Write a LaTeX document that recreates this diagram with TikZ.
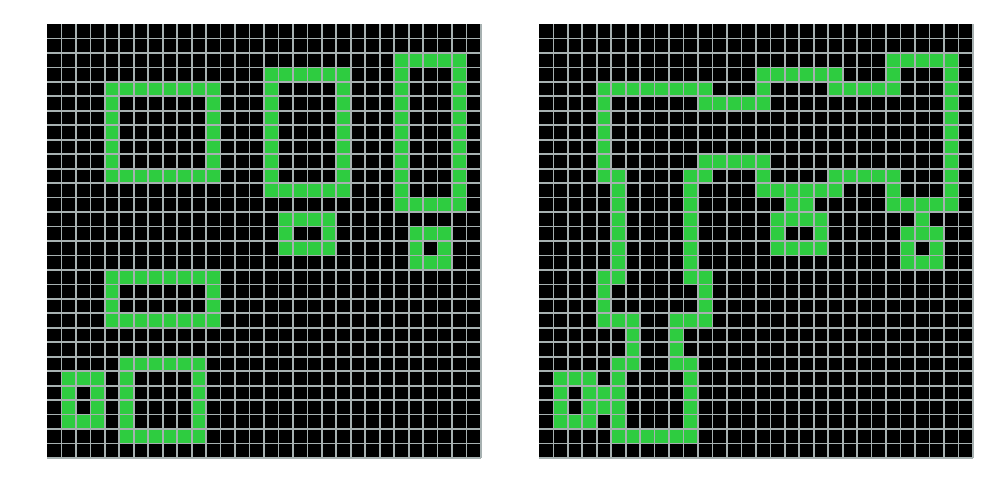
\documentclass[tikz,border=0pt]{standalone}
\usepackage{tikz}
\definecolor{cgreen}{HTML}{2ECC40}
\definecolor{cgrid}{HTML}{A7B1B1}
\tikzset{
  board/.style={fill=black},
  live/.style={fill=cgreen},
  gridline/.style={draw=cgrid,line width=1pt}
}
% hollow block of cells: #1,#2 top-left cell, #3,#4 bottom-right cell
\newcommand{\ringcells}[4]{%
  \fill[live] (#1,#2) rectangle (#3+1,#4+1);
  \fill[board] (#1+1,#2+1) rectangle (#3,#4);}
\newcommand{\gridlines}{%
  \foreach \i in {1,...,30} {
    \draw[gridline] (\i,0) -- (\i,30);
    \draw[gridline] (0,\i) -- (30,\i);
  }}

\begin{document}
\begin{tikzpicture}[x=0.3cm,y=-0.3cm]
  \useasboundingbox (-3.249,-1.659) rectangle (65.874,32.90);
  % left board
  \begin{scope}
    \fill[board] (0,0) rectangle (30,30);
    \ringcells{4}{4}{11}{10}
    \ringcells{15}{3}{20}{11}
    \ringcells{24}{2}{28}{12}
    \ringcells{16}{13}{19}{15}
    \ringcells{25}{14}{27}{16}
    \ringcells{4}{17}{11}{20}
    \ringcells{5}{23}{10}{28}
    \ringcells{1}{24}{3}{27}
    \gridlines
  \end{scope}
  % right board
  \begin{scope}[xshift=10.2cm]
    \fill[board] (0,0) rectangle (30,30);
    \foreach \r/\a/\b in {2/24/28,
        3/15/20, 3/24/24, 3/28/28,
        4/4/11, 4/15/15, 4/20/24, 4/28/28,
        5/4/4, 5/11/15, 5/28/28,
        6/4/4, 6/28/28, 7/4/4, 7/28/28, 8/4/4, 8/28/28,
        9/4/4, 9/11/15, 9/28/28,
        10/4/5, 10/10/11, 10/15/15, 10/20/24, 10/28/28,
        11/5/5, 11/10/10, 11/15/20, 11/24/24, 11/28/28,
        12/5/5, 12/10/10, 12/17/18, 12/24/28,
        13/5/5, 13/10/10, 13/16/19, 13/26/26,
        14/5/5, 14/10/10, 14/16/16, 14/19/19, 14/25/27,
        15/5/5, 15/10/10, 15/16/19, 15/25/25, 15/27/27,
        16/5/5, 16/10/10, 16/25/27,
        17/4/5, 17/10/11,
        18/4/4, 18/11/11, 19/4/4, 19/11/11,
        20/4/6, 20/9/11,
        21/6/6, 21/9/9, 22/6/6, 22/9/9,
        23/5/6, 23/9/10,
        24/1/3, 24/5/5, 24/10/10,
        25/1/1, 25/3/5, 25/10/10,
        26/1/1, 26/3/5, 26/10/10,
        27/1/3, 27/5/5, 27/10/10,
        28/5/10}
      \fill[live] (\a,\r) rectangle (\b+1,\r+1);
    \gridlines
  \end{scope}
\end{tikzpicture}
\end{document}
